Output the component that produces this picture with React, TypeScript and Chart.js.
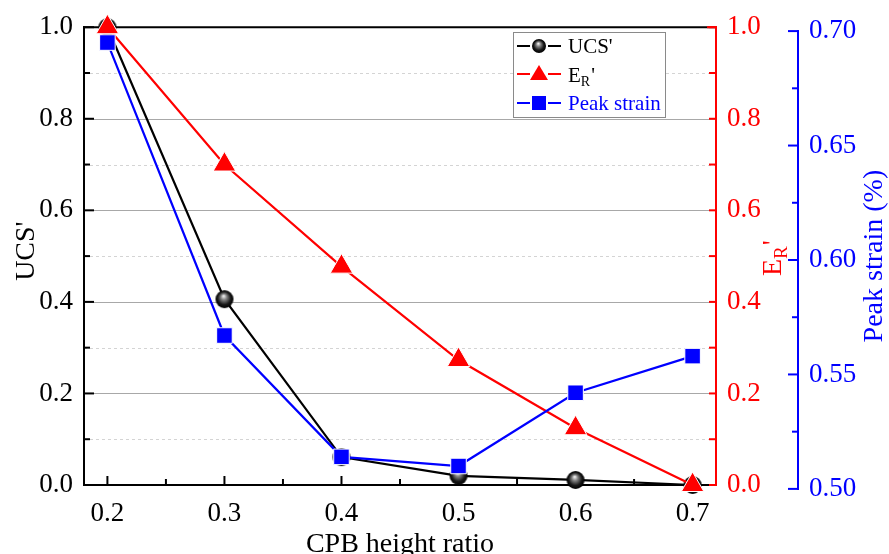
import React, { useEffect, useRef } from 'react';
import { Chart, registerables } from 'chart.js';
Chart.register(...registerables);

const heightRatio = [0.2, 0.3, 0.4, 0.5, 0.6, 0.7];
const ucsNorm = [1.0, 0.406, 0.061, 0.02, 0.011, 0.0];
const erNorm = [1.0, 0.7, 0.477, 0.273, 0.124, 0.0];
const peakStrain = [0.695, 0.567, 0.514, 0.51, 0.542, 0.558];

const xTicks = [0.2, 0.3, 0.4, 0.5, 0.6, 0.7];
const xMinor = [0.25, 0.35, 0.45, 0.55, 0.65];
const leftTicks = [0, 0.2, 0.4, 0.6, 0.8, 1.0];
const leftMinor = [0.1, 0.3, 0.5, 0.7, 0.9];
const redTicks = [0, 0.2, 0.4, 0.6, 0.8, 1.0];
const redMinor = [0.1, 0.3, 0.5, 0.7, 0.9];
const blueTicks = [0.5, 0.55, 0.6, 0.65, 0.7];
const blueMinor = [0.525, 0.575, 0.625, 0.675];

const FONT = '"Liberation Serif", "Times New Roman", serif';
const RED = '#ff0000';
const BLUE = '#0000ff';

function makeSphere(r: number) {
  const c = document.createElement('canvas');
  const s = Math.ceil(r * 2 + 2);
  c.width = s;
  c.height = s;
  const g = c.getContext('2d')!;
  const cx = s / 2, cy = s / 2;
  const grad = g.createRadialGradient(cx - r * 0.1, cy - r * 0.35, r * 0.05, cx, cy, r);
  grad.addColorStop(0, '#eeeeee');
  grad.addColorStop(0.3, '#808080');
  grad.addColorStop(0.7, '#181818');
  grad.addColorStop(1, '#000000');
  g.fillStyle = grad;
  g.beginPath();
  g.arc(cx, cy, r, 0, Math.PI * 2);
  g.fill();
  return c;
}

function hline(ctx: CanvasRenderingContext2D, x1: number, x2: number, y: number) {
  ctx.beginPath();
  ctx.moveTo(x1, y);
  ctx.lineTo(x2, y);
  ctx.stroke();
}
function vline(ctx: CanvasRenderingContext2D, x: number, y1: number, y2: number) {
  ctx.beginPath();
  ctx.moveTo(x, y1);
  ctx.lineTo(x, y2);
  ctx.stroke();
}

function drawSubTitle(ctx: CanvasRenderingContext2D, x: number, y: number, main: number, sub: number, color: string) {
  ctx.fillStyle = color;
  ctx.textBaseline = 'alphabetic';
  ctx.textAlign = 'left';
  ctx.font = `${main}px ${FONT}`;
  ctx.fillText('E', x, y);
  const wE = ctx.measureText('E').width;
  ctx.font = `${sub}px ${FONT}`;
  ctx.fillText('R', x + wE, y + main * 0.22);
  const wR = ctx.measureText('R').width;
  ctx.font = `${main}px ${FONT}`;
  ctx.fillText("'", x + wE + wR + 1, y);
}

const legendSphere = makeSphere(7);

const decorPlugin = {
  id: 'decor',
  beforeDatasetsDraw(chart: any) {
    const { ctx, chartArea: a, scales } = chart;
    const x = scales.x, y = scales.y, yr = scales.yR, yb = scales.yB;
    ctx.save();
    ctx.lineWidth = 1;
    ctx.strokeStyle = '#d4d4d4';
    ctx.setLineDash([3, 3]);
    leftMinor.forEach((v) => hline(ctx, a.left, a.right, Math.round(y.getPixelForValue(v)) + 0.5));
    ctx.setLineDash([]);
    ctx.strokeStyle = '#a8a8a8';
    leftTicks.slice(1, -1).forEach((v) => hline(ctx, a.left, a.right, Math.round(y.getPixelForValue(v)) + 0.5));

    ctx.lineWidth = 2;
    ctx.lineCap = 'square';
    ctx.strokeStyle = '#000';
    hline(ctx, a.left, a.right, a.top);
    hline(ctx, a.left, a.right, a.bottom);
    vline(ctx, a.left, a.top, a.bottom);
    leftTicks.forEach((v) => hline(ctx, a.left, a.left + 9, y.getPixelForValue(v)));
    leftMinor.forEach((v) => hline(ctx, a.left, a.left + 5, y.getPixelForValue(v)));
    xTicks.forEach((v) => vline(ctx, x.getPixelForValue(v), a.bottom, a.bottom - 8));
    xMinor.forEach((v) => vline(ctx, x.getPixelForValue(v), a.bottom, a.bottom - 5));
    ctx.strokeStyle = RED;
    vline(ctx, a.right, a.top, a.bottom);
    hline(ctx, a.right - 8, a.right, a.top);
    redTicks.forEach((v) => hline(ctx, a.right - 6, a.right, yr.getPixelForValue(v)));
    redMinor.forEach((v) => hline(ctx, a.right - 6, a.right, yr.getPixelForValue(v)));
    ctx.strokeStyle = BLUE;
    const bx = yb.left;
    const bTop = yb.getPixelForValue(0.7);
    const bBot = yb.getPixelForValue(0.5);
    vline(ctx, bx, bTop, bBot);
    blueTicks.forEach((v) => hline(ctx, bx - 9, bx, yb.getPixelForValue(v)));
    blueMinor.forEach((v) => hline(ctx, bx - 5, bx, yb.getPixelForValue(v)));
    ctx.restore();
  },
  afterDraw(chart: any) {
    const { ctx, chartArea: a, scales } = chart;
    const yb = scales.yB;
    const midY = (a.top + a.bottom) / 2;
    ctx.save();
    ctx.fillStyle = '#000';
    ctx.textAlign = 'center';
    ctx.textBaseline = 'middle';
    ctx.font = `28px ${FONT}`;
    ctx.fillText('CPB height ratio', (a.left + a.right) / 2, 545);
    ctx.save();
    ctx.translate(27, midY - 5);
    ctx.rotate(-Math.PI / 2);
    ctx.fillText("UCS'", 0, 0);
    ctx.restore();
    ctx.save();
    ctx.fillStyle = BLUE;
    ctx.translate(yb.right - 14, midY);
    ctx.rotate(-Math.PI / 2);
    ctx.fillText('Peak strain (%)', 0, 0);
    ctx.restore();
    ctx.save();
    ctx.translate(781, midY + 20);
    ctx.rotate(-Math.PI / 2);
    drawSubTitle(ctx, 0, 0, 28, 19, RED);
    ctx.restore();

    const lx = 513, ly = 32, lw = 152, lh = 85;
    ctx.fillStyle = '#fff';
    ctx.fillRect(lx, ly, lw, lh);
    ctx.strokeStyle = '#8a8a8a';
    ctx.lineWidth = 1;
    ctx.strokeRect(lx + 0.5, ly + 0.5, lw, lh);
    const rows = [46, 74, 103];
    const mx = 539;
    const drawLineSeg = (color: string, yy: number) => {
      ctx.strokeStyle = color;
      ctx.lineWidth = 2;
      hline(ctx, 517, 530, yy);
      hline(ctx, 548, 561, yy);
    };
    drawLineSeg('#000', rows[0]);
    ctx.drawImage(legendSphere, mx - legendSphere.width / 2, rows[0] - legendSphere.height / 2);
    drawLineSeg(RED, rows[1]);
    ctx.fillStyle = RED;
    ctx.beginPath();
    ctx.moveTo(mx, rows[1] - 9);
    ctx.lineTo(mx + 9, rows[1] + 6);
    ctx.lineTo(mx - 9, rows[1] + 6);
    ctx.closePath();
    ctx.fill();
    drawLineSeg(BLUE, rows[2]);
    ctx.fillStyle = BLUE;
    ctx.fillRect(mx - 7, rows[2] - 7, 14, 14);

    ctx.textAlign = 'left';
    ctx.textBaseline = 'middle';
    ctx.fillStyle = '#000';
    ctx.font = `21px ${FONT}`;
    ctx.fillText("UCS'", 568, rows[0] + 1);
    ctx.textBaseline = 'alphabetic';
    ctx.font = `21px ${FONT}`;
    ctx.fillText('E', 568, rows[1] + 8);
    const wE = ctx.measureText('E').width;
    ctx.font = `14px ${FONT}`;
    ctx.fillText('R', 568 + wE, rows[1] + 12);
    const wR = ctx.measureText('R').width;
    ctx.font = `21px ${FONT}`;
    ctx.fillText("'", 568 + wE + wR + 1, rows[1] + 8);
    ctx.textBaseline = 'middle';
    ctx.fillStyle = BLUE;
    ctx.fillText('Peak strain', 568, rows[2] + 1);
    ctx.restore();
  },
};

export default function App() {
  const ref = useRef<HTMLCanvasElement>(null);
  useEffect(() => {
    const sphere = makeSphere(9);
    const setTicks = (vals: number[]) => (scale: any) => {
      scale.ticks = vals.map((v) => ({ value: v }));
    };
    const tickFont = { family: FONT, size: 27 };
    const chart = new Chart(ref.current!, {
      type: 'line',
      data: {
        datasets: [
          {
            label: 'Peak strain',
            data: heightRatio.map((x, i) => ({ x, y: peakStrain[i] })),
            yAxisID: 'yB',
            borderColor: BLUE,
            borderWidth: 2.2,
            pointStyle: 'rect',
            pointRadius: 11,
            pointBackgroundColor: BLUE,
            pointBorderColor: '#ffffff',
            pointBorderWidth: 1,
            clip: false,
          } as any,
          {
            label: "E_R'",
            data: heightRatio.map((x, i) => ({ x, y: erNorm[i] })),
            yAxisID: 'yR',
            borderColor: RED,
            borderWidth: 2.2,
            pointStyle: 'triangle',
            pointRadius: 13,
            pointBackgroundColor: RED,
            pointBorderColor: '#ffffff',
            pointBorderWidth: 1,
            clip: false,
          } as any,
          {
            label: "UCS'",
            data: heightRatio.map((x, i) => ({ x, y: ucsNorm[i] })),
            yAxisID: 'y',
            borderColor: '#000000',
            borderWidth: 2.2,
            pointStyle: sphere,
            pointRadius: 9,
            clip: false,
          } as any,
        ],
      },
      options: {
        responsive: false,
        animation: false,
        events: [],
        layout: { padding: { top: 24, left: 0, right: 0, bottom: 0 } },
        plugins: { legend: { display: false }, tooltip: { enabled: false } },
        scales: {
          x: {
            type: 'linear',
            min: 0.18,
            max: 0.72,
            afterBuildTicks: setTicks(xTicks),
            afterFit: (s: any) => { s.height = 69; },
            grid: { display: false, drawTicks: false },
            border: { display: false },
            ticks: {
              font: tickFont,
              color: '#000',
              padding: 13,
              maxRotation: 0,
              autoSkip: false,
              callback: (v: any) => Number(v).toFixed(1),
            },
          },
          y: {
            type: 'linear',
            position: 'left',
            min: 0,
            max: 1,
            afterBuildTicks: setTicks(leftTicks),
            afterFit: (s: any) => { s.width = 84; },
            grid: { display: false, drawTicks: false },
            border: { display: false },
            ticks: {
              font: tickFont,
              color: '#000',
              padding: 11,
              autoSkip: false,
              callback: (v: any) => Number(v).toFixed(1),
            },
          },
          yR: {
            type: 'linear',
            position: 'right',
            weight: 0,
            min: 0,
            max: 1,
            afterBuildTicks: setTicks(redTicks),
            afterFit: (s: any) => { s.width = 82; },
            grid: { display: false, drawTicks: false },
            border: { display: false },
            ticks: {
              font: tickFont,
              color: RED,
              padding: 11,
              autoSkip: false,
              callback: (v: any) => Number(v).toFixed(1),
            },
          },
          yB: {
            type: 'linear',
            position: 'right',
            weight: 1,
            min: 0.5017,
            max: 0.7017,
            afterBuildTicks: setTicks(blueTicks),
            afterFit: (s: any) => { s.width = 91; },
            grid: { display: false, drawTicks: false },
            border: { display: false },
            ticks: {
              font: tickFont,
              color: BLUE,
              padding: 11,
              autoSkip: false,
              callback: (v: any) => Number(v).toFixed(2),
            },
          },
        },
      } as any,
      plugins: [decorPlugin],
    });
    return () => chart.destroy();
  }, []);
  return (
    <div style={{ position: 'absolute', left: 0, top: 0, width: 889, height: 554, background: '#fff' }}>
      <canvas ref={ref} width={889} height={554} style={{ display: 'block' }} />
    </div>
  );
}
